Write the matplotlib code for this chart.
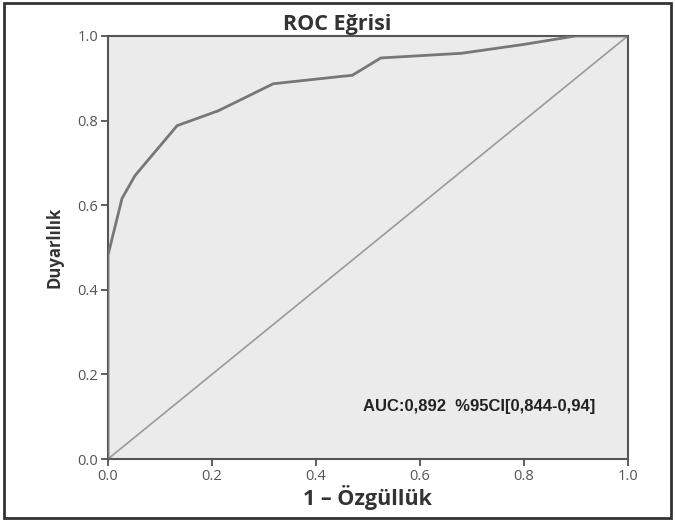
import matplotlib
matplotlib.use("Agg")
import matplotlib.pyplot as plt
from matplotlib.patches import Rectangle

fpr = [0.0, 0.0, 0.027, 0.052, 0.133, 0.212, 0.318, 0.446, 0.47, 0.525, 0.68, 0.80, 0.90, 1.0]
tpr = [0.0, 0.482, 0.616, 0.670, 0.788, 0.823, 0.887, 0.904, 0.907, 0.948, 0.959, 0.98, 1.0, 1.0]
ref_line = [0.0, 1.0]
ticks = [0.0, 0.2, 0.4, 0.6, 0.8, 1.0]
tick_labels = ["0.0", "0.2", "0.4", "0.6", "0.8", "1.0"]

title = "ROC Eğrisi"
xlabel = "1 \u2013 Özgüllük"
ylabel = "Duyarlılık"
annot = "AUC:0,892  %95CI[0,844-0,94]"

fig = plt.figure(figsize=(6.75, 5.21), dpi=100)
fig.patch.set_facecolor("white")
ax = fig.add_axes([0.16, 0.119, 0.77, 0.812])
ax.set_facecolor("#ebebeb")

ax.plot(ref_line, ref_line, color="#9a9a9a", lw=1.2, zorder=2)
ax.plot(fpr, tpr, color="#777777", lw=2.0, zorder=3)

ax.set_xlim(0, 1)
ax.set_ylim(0, 1)
ax.set_xticks(ticks)
ax.set_xticklabels(tick_labels)
ax.set_yticks(ticks)
ax.set_yticklabels(tick_labels)
ax.tick_params(direction="out", length=5, width=1.2, color="#444444",
               labelsize=10.5, labelcolor="#555555", pad=2)
for s in ax.spines.values():
    s.set_color("#555555")
    s.set_linewidth(1.5)

ax.set_title(title, fontsize=15.5, fontweight="bold", color="#333333", pad=4,
             family="Open Sans", x=0.44)
ax.set_xlabel(xlabel, fontsize=15.5, fontweight="bold", color="#333333",
              family="Open Sans", labelpad=1)
ax.set_ylabel(ylabel, fontsize=12, fontweight="bold", color="#333333",
              family="Open Sans", labelpad=10)
for lab in ax.get_xticklabels() + ax.get_yticklabels():
    lab.set_family("Open Sans")

ax.text(0.49, 0.123, annot, fontsize=12, fontweight="bold", color="#222222",
        family="Liberation Sans", va="center", ha="left", transform=ax.transData)

fig.patches.append(Rectangle((0.006, 0.006), 0.988, 0.988, transform=fig.transFigure,
                             fill=False, edgecolor="#333333", lw=2))

fig.savefig("out.png", dpi=100)
